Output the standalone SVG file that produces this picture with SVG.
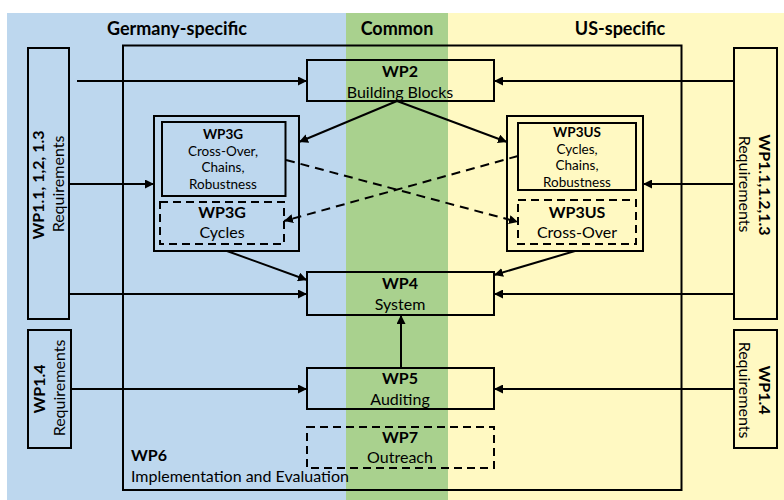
<svg xmlns="http://www.w3.org/2000/svg" width="784" height="500" viewBox="0 0 784 500">
<style>
.t{font-family:Lato,"Liberation Sans",Arial,sans-serif;font-size:16px;fill:#000;text-anchor:middle}
.s{font-size:13.5px}
.b{font-weight:bold}
.h{font-family:Lato,"Liberation Sans",Arial,sans-serif;font-size:18px;font-weight:bold;text-anchor:middle}
.box{fill:none;stroke:#000;stroke-width:2}
.dbox{fill:none;stroke:#000;stroke-width:2;stroke-dasharray:8,5}
.c{fill:none;stroke:#000;stroke-width:2}
.d{fill:none;stroke:#000;stroke-width:2;stroke-dasharray:9,6}
</style>
<defs>
<marker id="ah" viewBox="0 0 10 10" refX="10" refY="5" markerWidth="9" markerHeight="9" markerUnits="userSpaceOnUse" orient="auto">
<path d="M0,0 L10,5 L0,10 z" fill="#000"/>
</marker>
</defs>
<rect x="0" y="0" width="784" height="500" fill="#fff"/>
<rect x="7" y="13" width="339" height="487" fill="#BDD7EE"/>
<rect x="346" y="13" width="102" height="487" fill="#A9D18E"/>
<rect x="448" y="13" width="336" height="487" fill="#FFF9C2"/>
<text class="h" x="177" y="35">Germany-specific</text>
<text class="h" x="397" y="35">Common</text>
<text class="h" x="620" y="35">US-specific</text>

<g id="wp6">
<rect class="box" x="123" y="45.5" width="558.5" height="444.5"/>
<text class="t b" x="131" y="461" style="text-anchor:start">WP6</text>
<text class="t" x="131" y="482" style="text-anchor:start">Implementation and Evaluation</text>
</g>
<g id="wp1-left">
<rect class="box" x="28" y="48" width="41" height="271"/>
<text class="t b" transform="translate(44,185) rotate(-90)">WP1.1, 1,2, 1.3</text>
<text class="t" transform="translate(64,184) rotate(-90)">Requirements</text>
</g>
<g id="wp14-left">
<rect class="box" x="28" y="330" width="43" height="118"/>
<text class="t b" transform="translate(45,389) rotate(-90)">WP1.4</text>
<text class="t" transform="translate(65,388) rotate(-90)">Requirements</text>
</g>
<g id="wp1-right">
<rect class="box" x="734" y="48" width="43" height="271"/>
<text class="t b" transform="translate(759,185) rotate(90)">WP1.1,1.2,1.3</text>
<text class="t" transform="translate(739,184) rotate(90)">Requirements</text>
</g>
<g id="wp14-right">
<rect class="box" x="734" y="330" width="43" height="118"/>
<text class="t b" transform="translate(759,390) rotate(90)">WP1.4</text>
<text class="t" transform="translate(739,390) rotate(90)">Requirements</text>
</g>
<g id="wp2">
<rect class="box" x="307" y="60" width="187" height="41"/>
<text class="t b" x="400" y="77">WP2</text>
<text class="t" x="400" y="98">Building Blocks</text>
</g>
<g id="wp3g">
<rect class="box" x="154" y="116" width="145" height="135"/>
<rect class="box" x="162" y="122" width="123.5" height="74"/>
<text class="t b s" x="223" y="139">WP3G</text>
<text class="t s" x="223" y="155.5">Cross-Over,</text>
<text class="t s" x="223" y="172">Chains,</text>
<text class="t s" x="223" y="188.5">Robustness</text>
<rect class="dbox" x="160" y="202" width="124" height="42"/>
<text class="t b" x="222" y="218">WP3G</text>
<text class="t" x="222" y="238">Cycles</text>
</g>
<g id="wp3us">
<rect class="box" x="507" y="116" width="136" height="135"/>
<rect class="box" x="518" y="123" width="118" height="67"/>
<text class="t b s" x="577" y="137">WP3US</text>
<text class="t s" x="577" y="153.5">Cycles,</text>
<text class="t s" x="577" y="170">Chains,</text>
<text class="t s" x="577" y="186.5">Robustness</text>
<rect class="dbox" x="518" y="200" width="118" height="44"/>
<text class="t b" x="577" y="218">WP3US</text>
<text class="t" x="577" y="238">Cross-Over</text>
</g>
<g id="wp4">
<rect class="box" x="307" y="272" width="187" height="43"/>
<text class="t b" x="400" y="289">WP4</text>
<text class="t" x="400" y="310">System</text>
</g>
<g id="wp5">
<rect class="box" x="307" y="368" width="187" height="41"/>
<text class="t b" x="400" y="384">WP5</text>
<text class="t" x="400" y="405">Auditing</text>
</g>
<g id="wp7">
<rect class="dbox" x="307" y="427" width="187" height="41"/>
<text class="t b" x="400" y="443">WP7</text>
<text class="t" x="400" y="463">Outreach</text>
</g>

<g id="connectors">
<line class="c" x1="77" y1="81" x2="307" y2="81" marker-end="url(#ah)"/>
<line class="c" x1="734" y1="81" x2="494" y2="81" marker-end="url(#ah)"/>
<line class="c" x1="69" y1="184" x2="154" y2="184" marker-end="url(#ah)"/>
<line class="c" x1="734" y1="184" x2="643" y2="184" marker-end="url(#ah)"/>
<line class="c" x1="69" y1="294" x2="307" y2="294" marker-end="url(#ah)"/>
<line class="c" x1="734" y1="294" x2="494" y2="294" marker-end="url(#ah)"/>
<line class="c" x1="71" y1="389" x2="307" y2="389" marker-end="url(#ah)"/>
<line class="c" x1="734" y1="389" x2="494" y2="389" marker-end="url(#ah)"/>
<line class="c" x1="397" y1="101" x2="299" y2="142" marker-end="url(#ah)"/>
<line class="c" x1="397" y1="101" x2="507" y2="142" marker-end="url(#ah)"/>
<line class="d" x1="286" y1="160" x2="518" y2="222" marker-end="url(#ah)"/>
<line class="d" x1="518" y1="156" x2="284" y2="221" marker-end="url(#ah)"/>
<line class="c" x1="227" y1="251" x2="307" y2="280" marker-end="url(#ah)"/>
<line class="c" x1="575" y1="251" x2="494" y2="275" marker-end="url(#ah)"/>
<line class="c" x1="401" y1="368" x2="401" y2="315" marker-end="url(#ah)"/>
</g>
</svg>
